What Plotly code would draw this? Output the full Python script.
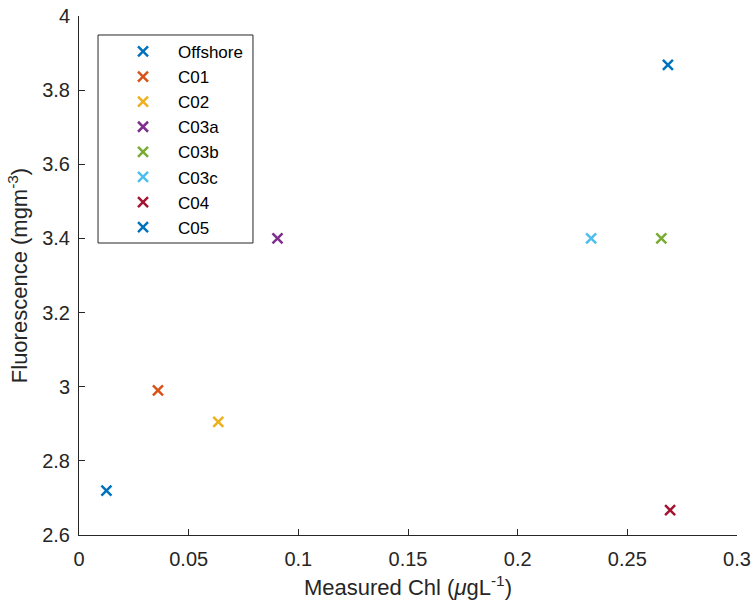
import plotly.graph_objects as go

names = ["Offshore", "C01", "C02", "C03a", "C03b", "C03c", "C04", "C05"]
chl = [0.0125, 0.036, 0.0635, 0.0905, 0.2655, 0.2335, 0.2695, 0.2685]
fluor = [2.72, 2.99, 2.905, 3.40, 3.40, 3.40, 2.667, 3.868]
colors = ["#0072BD", "#D95319", "#EDB120", "#7E2F8E", "#77AC30", "#4DBEEE", "#A2142F", "#0072BD"]

FONT = "Liberation Sans, Arial"
fig = go.Figure()
for n, x, y, c in zip(names, chl, fluor, colors):
    fig.add_trace(go.Scatter(
        x=[x], y=[y], mode="markers", name=n,
        marker=dict(symbol="x-thin", size=10, line=dict(width=2.5, color=c), color=c),
    ))

axis_common = dict(
    showline=True, linecolor="#262626", linewidth=1, ticks="inside", ticklen=6,
    tickcolor="#262626", showgrid=False, zeroline=False, mirror=False, automargin=False,
    tickfont=dict(family=FONT, size=20, color="#262626"),
)
fig.update_xaxes(range=[0, 0.3], tickvals=[0, 0.05, 0.1, 0.15, 0.2, 0.25, 0.3],
                 ticktext=["0", "0.05", "0.1", "0.15", "0.2", "0.25", "0.3"],
                 ticklabelstandoff=6,
                 title=dict(text="Measured Chl (<i>μ</i>gL<sup>-1</sup>)", standoff=10,
                            font=dict(family=FONT, size=22, color="#262626")),
                 **axis_common)
fig.update_yaxes(range=[2.6, 4], tickvals=[2.6, 2.8, 3, 3.2, 3.4, 3.6, 3.8, 4],
                 ticktext=["2.6", "2.8", "3", "3.2", "3.4", "3.6", "3.8", "4"],
                 ticklabelstandoff=4,
                 title=dict(text="Fluorescence (mgm<sup>-3</sup>)", standoff=8,
                            font=dict(family=FONT, size=22, color="#262626")),
                 **axis_common)

fig.add_shape(type="rect", xref="paper", yref="paper", x0=0.0289, x1=0.2644, y0=0.5626, y1=0.9634,
              line=dict(color="#262626", width=1), fillcolor="rgba(0,0,0,0)")

fig.update_layout(
    width=752, height=608,
    margin=dict(l=79, r=15, t=16, b=73),
    plot_bgcolor="white", paper_bgcolor="white",
    showlegend=True,
    legend=dict(x=0.0441, y=0.9655, xanchor="left", yanchor="top", bgcolor="rgba(0,0,0,0)",
                font=dict(family=FONT, size=17, color="#000000"),
                itemwidth=60, borderwidth=0),
)

fig.write_html("out.html")
